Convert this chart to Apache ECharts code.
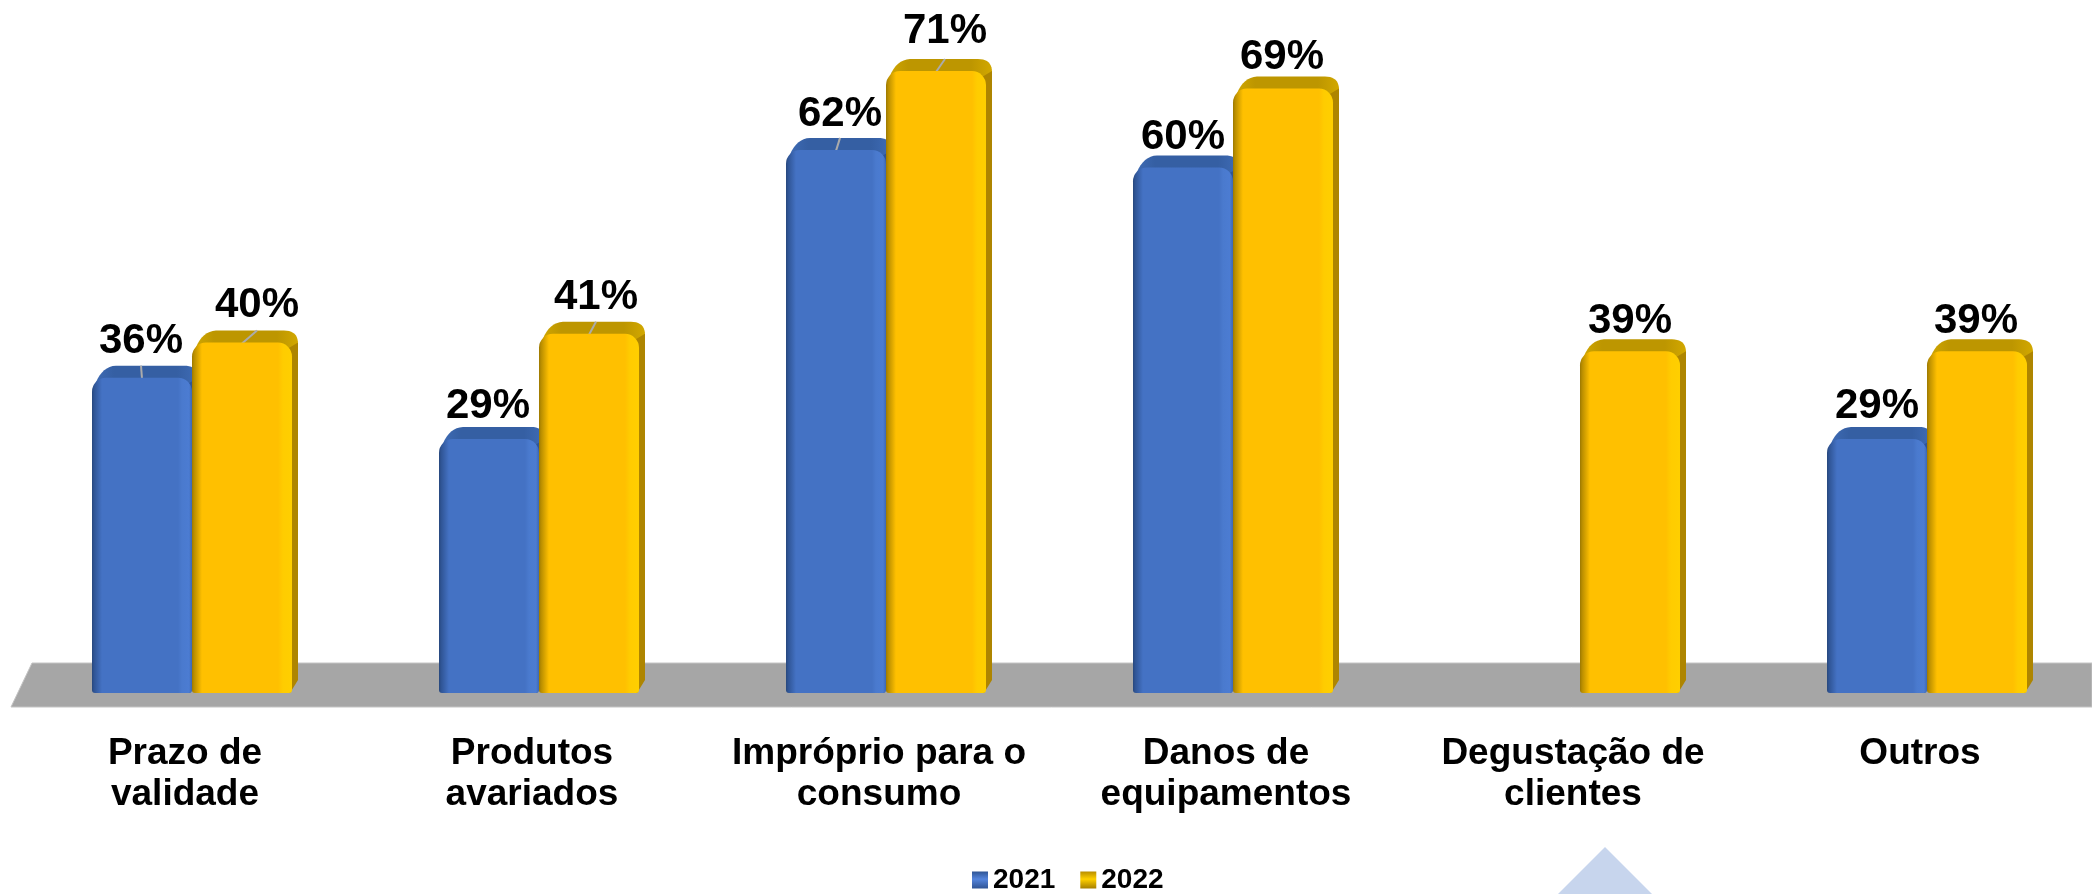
<!DOCTYPE html>
<html>
<head>
<meta charset="utf-8">
<style>html,body{margin:0;padding:0;background:#fff}#c{width:2092px;height:894px}</style>
<script src="https://cdn.jsdelivr.net/npm/echarts@6/dist/echarts.min.js"></script>
</head>
<body>
<div id="c"></div>
<script>
const categories = ['Prazo de\nvalidade', 'Produtos\navariados', 'Impróprio para o\nconsumo', 'Danos de\nequipamentos', 'Degustação de\nclientes', 'Outros'];
const values2021 = [36, 29, 62, 60, null, 29];
const values2022 = [40, 41, 71, 69, 39, 39];
const leader2021 = [true, false, true, false, false, false];
const leader2022 = [true, true, true, false, false, false];
const labelDx2021 = [-1, -1, 4, 0, 0, 0];
const labelDx2022 = [15, 7, 9, -1, 0, -1];
const labelLift2021 = [35, 32, 34, 29, 0, 32];
const labelLift2022 = [36, 35, 39, 30, 29, 29];

const FONT = '"Liberation Sans", Arial, sans-serif';
const BAR_W = 100, DEPTH_Y = 12, DEPTH_X = 6, LABEL_SHIFT = 7;

const hGrad = (stops) => new echarts.graphic.LinearGradient(0, 0, 1, 0, stops.map(s => ({offset: s[0], color: s[1]})));
const vGrad = (stops) => new echarts.graphic.LinearGradient(0, 0, 0, 1, stops.map(s => ({offset: s[0], color: s[1]})));

const themes = {
  blue: {
    face: hGrad([[0,'#27477C'],[0.02,'#2F5494'],[0.10,'#4472C4'],[0.86,'#4472C4'],[0.90,'#4A7ACE'],[0.97,'#4C7CD2'],[1,'#3D68B2']]),
    top: hGrad([[0,'#3F6CB6'],[0.2,'#355FA3'],[0.8,'#355FA3'],[1,'#3F6CB6']]),
    side: '#2F5596',
    glow: 'rgba(120,165,255,'
  },
  gold: {
    face: hGrad([[0,'#9C7800'],[0.02,'#B88D00'],[0.10,'#FFC000'],[0.86,'#FFC000'],[0.91,'#FFCC00'],[1,'#FFCF00']]),
    top: hGrad([[0,'#D2A800'],[0.2,'#BD9600'],[0.8,'#BD9600'],[1,'#D2A800']]),
    side: '#AE8500',
    glow: 'rgba(255,226,0,'
  }
};

function curve(a, c, b, n) {
  const pts = [];
  for (let i = 0; i <= n; i++) {
    const t = i / n, u = 1 - t;
    pts.push([u*u*a[0] + 2*u*t*c[0] + t*t*b[0], u*u*a[1] + 2*u*t*c[1] + t*t*b[1]]);
  }
  return pts;
}

function geom(api, side) {
  const v = api.value(1);
  if (v == null || isNaN(v)) return null;
  const top = api.coord([api.value(0), v]);
  const base = api.coord([api.value(0), 0]);
  const x0 = side < 0 ? top[0] - BAR_W : top[0];
  return {x0, x1: x0 + BAR_W, t: top[1], b: base[1], cx: x0 + BAR_W / 2};
}

function backRender(side, th) {
  return (params, api) => {
    const g = geom(api, side);
    if (!g) return;
    const yb = g.t - DEPTH_Y;
    const topPts = [
      ...curve([g.x0 + 1, g.t + 14], [g.x0 + 7, yb + 1], [g.x0 + 24, yb], 10),
      ...curve([g.x1 - 8, yb], [g.x1 + DEPTH_X, yb], [g.x1 + DEPTH_X, yb + 13], 10),
      [g.x1, g.t + 20]
    ];
    const sidePts = [
      [g.x1 - 4, g.t + 6], [g.x1 + DEPTH_X, yb + 12],
      [g.x1 + DEPTH_X, g.b - 13], [g.x1 - 2, g.b], [g.x1 - 4, g.b]
    ];
    return {type: 'group', children: [
      {type: 'polygon', shape: {points: topPts}, style: {fill: th.top}},
      {type: 'polygon', shape: {points: sidePts}, style: {fill: th.side}}
    ]};
  };
}

function frontRender(side, th, leaders, dxs) {
  return (params, api) => {
    const g = geom(api, side);
    if (!g) return;
    const i = api.value(0);
    const kids = [{
      type: 'rect',
      shape: {x: g.x0 + 3, y: g.t + 1, width: BAR_W - 6, height: 15, r: [13, 13, 0, 0]},
      style: {fill: vGrad([[0, th.glow + '0.1)'], [0.8, th.glow + '0.9)'], [1, th.glow + '0)']])}
    }];
    if (leaders[i]) {
      kids.push({
        type: 'line',
        shape: {x1: g.cx + dxs[i], y1: g.t - DEPTH_Y, x2: g.cx, y2: g.t + 1},
        style: {stroke: '#ABABAB', lineWidth: 2}
      });
    }
    return {type: 'group', children: kids};
  };
}

function barData(vals, th, dxs, lifts) {
  return vals.map((v, i) => ({
    value: v,
    itemStyle: {color: th.face, borderRadius: [14, 14, 3, 3]},
    label: {offset: [dxs[i], 20 - lifts[i]]}
  }));
}

function customData(vals) {
  return vals.map((v, i) => [i, v == null ? NaN : v]);
}

const barLabel = {
  show: true, position: 'top', distance: 0,
  formatter: '{c}%', color: '#000',
  fontFamily: FONT, fontWeight: 'bold', fontSize: 42
};

const option = {
  animation: false,
  backgroundColor: '#fff',
  graphic: [
    {type: 'polygon', z: 0, shape: {points: [[32, 663], [2092, 663], [2092, 707], [11, 707]]},
     style: {fill: '#A6A6A6', stroke: '#C4C4C4', lineWidth: 1}, silent: true},
    {type: 'polygon', z: 0, shape: {points: [[1558, 894], [1605, 847], [1652, 894]]},
     style: {fill: '#C7D5ED'}, silent: true}
  ],
  legend: {
    left: 972, top: 866, padding: 0, itemWidth: 16, itemHeight: 17, itemGap: 25,
    textStyle: {fontFamily: FONT, fontWeight: 'bold', fontSize: 28, color: '#000'},
    data: [
      {name: '2021', icon: 'rect', itemStyle: {color: vGrad([[0,'#2F5494'],[0.45,'#5585DD'],[1,'#2F5494']])}},
      {name: '2022', icon: 'rect', itemStyle: {color: vGrad([[0,'#B88D00'],[0.45,'#FFD000'],[1,'#A67F00']])}}
    ]
  },
  grid: {left: 192, top: 36, width: 1735, height: 657, containLabel: false},
  xAxis: {
    type: 'category', data: categories, boundaryGap: false,
    axisLine: {show: false}, axisTick: {show: false}, splitLine: {show: false},
    axisLabel: {
      interval: 0, margin: 40, hideOverlap: false,
      formatter: (val) => val.split('\n').map(l => '{c|' + l + '}').join('\n'),
      rich: {c: {fontFamily: FONT, fontWeight: 'bold', fontSize: 37, lineHeight: 41, color: '#000',
                 padding: [0, 2 * LABEL_SHIFT, 0, 0]}}
    }
  },
  yAxis: {type: 'value', min: 0, max: 75, show: false, splitLine: {show: false}},
  series: [
    {name: '2021 base', type: 'custom', clip: false, coordinateSystem: 'cartesian2d', renderItem: backRender(-1, themes.blue), encode: {x: 0, y: 1}, data: customData(values2021), silent: true},
    {name: '2021', type: 'bar', clip: false, barWidth: BAR_W, barGap: 0, data: barData(values2021, themes.blue, labelDx2021, labelLift2021), label: barLabel, itemStyle: {color: '#4472C4'}},
    {name: '2021 top', type: 'custom', clip: false, coordinateSystem: 'cartesian2d', renderItem: frontRender(-1, themes.blue, leader2021, labelDx2021), encode: {x: 0, y: 1}, data: customData(values2021), silent: true},
    {name: '2022 base', type: 'custom', clip: false, coordinateSystem: 'cartesian2d', renderItem: backRender(1, themes.gold), encode: {x: 0, y: 1}, data: customData(values2022), silent: true},
    {name: '2022', type: 'bar', clip: false, barWidth: BAR_W, barGap: 0, data: barData(values2022, themes.gold, labelDx2022, labelLift2022), label: barLabel, itemStyle: {color: '#FFC000'}},
    {name: '2022 top', type: 'custom', clip: false, coordinateSystem: 'cartesian2d', renderItem: frontRender(1, themes.gold, leader2022, labelDx2022), encode: {x: 0, y: 1}, data: customData(values2022), silent: true}
  ]
};

echarts.init(document.getElementById('c'), null, {renderer: 'canvas'}).setOption(option);
</script>
</body>
</html>
